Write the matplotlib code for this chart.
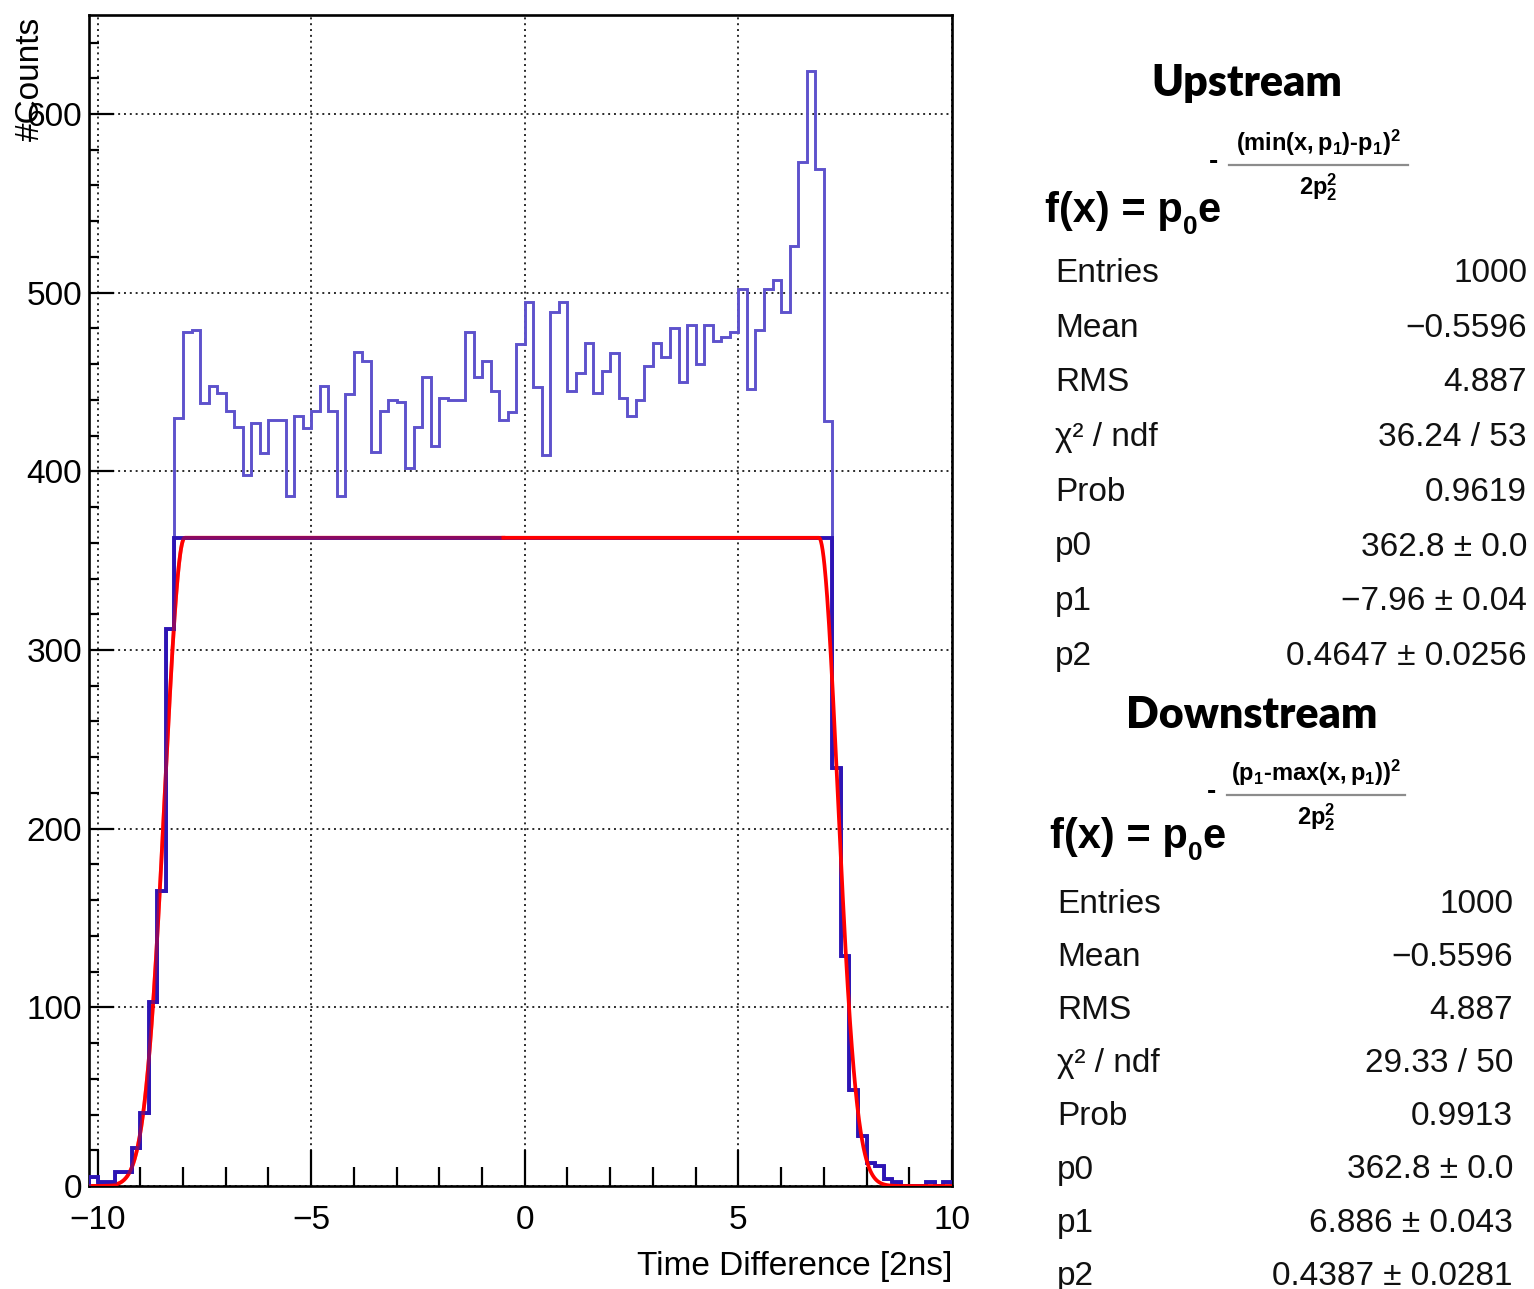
import numpy as np
import matplotlib
matplotlib.use("Agg")
import matplotlib.pyplot as plt
from matplotlib.lines import Line2D
from matplotlib.ticker import MultipleLocator

# ---------------- data ----------------
bin_low = -10.2
bin_width = 0.2
counts = [
    # -10.2 ... -8.2
    5, 2, 2, 8, 8, 21, 41, 103, 165, 312,
    # -8.2 ... 7.2
    430, 478, 479, 438, 448, 444, 434, 425, 398, 427,
    410, 429, 429, 386, 431, 424, 434, 448, 434, 386,
    443, 467, 462, 411, 434, 440, 439, 402, 425, 453,
    414, 441, 440, 440, 478, 453, 462, 445, 429, 433,
    471, 495, 447, 409, 489, 495, 445, 455, 472, 444,
    456, 466, 441, 431, 440, 459, 472, 464, 480, 450,
    482, 460, 482, 473, 475, 478, 502, 446, 479, 502,
    507, 489, 526, 573, 624, 569, 428,
    # 7.2 ... 10.0
    234, 129, 54, 28, 13, 11, 4, 2, 0, 0, 0, 2, 0, 2,
]

up_p0, up_p1, up_p2 = 362.8, -7.96, 0.4647
down_p0, down_p1, down_p2 = 362.8, 6.886, 0.4387
up_range = (-10.2, -0.5)
down_range = (-0.5, 10.0)

stat_labels = ["Entries", "Mean", "RMS", "χ² / ndf", "Prob", "p0", "p1", "p2"]
up_values = ["1000", "\u22120.5596", "4.887", "36.24 / 53", "0.9619",
             "362.8 \u00b1 0.0", "\u22127.96 \u00b1 0.04", "0.4647 \u00b1 0.0256"]
down_values = ["1000", "\u22120.5596", "4.887", "29.33 / 50", "0.9913",
               "362.8 \u00b1 0.0", "6.886 \u00b1 0.043", "0.4387 \u00b1 0.0281"]

x_ticks = [-10, -5, 0, 5, 10]
y_ticks = [0, 100, 200, 300, 400, 500, 600]

# ---------------- style ----------------
plt.rcParams['font.family'] = ['Liberation Sans', 'DejaVu Sans']
plt.rcParams['mathtext.fontset'] = 'custom'
plt.rcParams['mathtext.rm'] = 'Liberation Sans'
plt.rcParams['mathtext.bf'] = 'Liberation Sans:bold'
plt.rcParams['mathtext.it'] = 'Liberation Sans:italic'

W, H = 1534, 1289
fig = plt.figure(figsize=(W / 100, H / 100), dpi=100)


def P(px, py):
    return px / W, 1 - py / H


ax = fig.add_axes([89 / W, 1 - 1186 / H, (952 - 89) / W, (1186 - 15) / H])

counts = np.asarray(counts, dtype=float)
edges = bin_low + bin_width * np.arange(len(counts) + 1)

ax.stairs(counts, edges, color='#5e52cc', lw=2.1, zorder=2)

xu = np.linspace(up_range[0], up_range[1], 1000)
fu = up_p0 * np.exp(-(np.minimum(xu, up_p1) - up_p1) ** 2 / (2 * up_p2 ** 2))
xd = np.linspace(down_range[0], down_range[1], 1000)
fd = down_p0 * np.exp(-(down_p1 - np.maximum(xd, down_p1)) ** 2 / (2 * down_p2 ** 2))

ax.plot(xu, fu, color='#ff0000', lw=2.7, zorder=3)
ax.stairs(np.minimum(counts, up_p0), edges, color='#2d14b4', lw=2.8, zorder=4)
ax.plot(xu, fu, color='#ff0000', lw=2.7, alpha=0.45, zorder=5)
ax.plot(xd, fd, color='#ff0000', lw=2.7, zorder=6)

ax.set_xlim(-10.2, 10.0)
ax.set_ylim(0, 655.4)
ax.set_xticks(x_ticks)
ax.set_yticks(y_ticks)
ax.xaxis.set_minor_locator(MultipleLocator(1))
ax.yaxis.set_minor_locator(MultipleLocator(20))
ax.grid(True, which='major', linestyle=(0, (1, 2.0)), color='#2a2a2a', lw=1.4)
ax.set_axisbelow(True)
ax.tick_params(which='both', direction='in', color='black', width=1.6,
               labelsize=24, top=False, right=False)
ax.tick_params(axis='x', which='major', length=26, pad=14)
ax.tick_params(axis='x', which='minor', length=14)
ax.tick_params(axis='y', which='major', length=18, pad=5)
ax.tick_params(axis='y', which='minor', length=7)
for s in ax.spines.values():
    s.set_linewidth(1.9)
    s.set_color('black')

fig.text(*P(952, 1266), "Time Difference [2ns]", ha='right', va='center', fontsize=24)
fig.text(*P(30, 17), "#Counts", ha='center', va='top', rotation=90, fontsize=24)

# ---------------- stat panels ----------------
renderer = fig.canvas.get_renderer()


def chain(pieces, px0, baseline):
    """pieces: (text, dy_px, size, weight)"""
    x = px0
    for txt, dy, size, weight in pieces:
        t = fig.text(*P(x, baseline + dy), txt, fontsize=size, fontweight=weight,
                     ha='left', va='baseline', color='black')
        bb = t.get_window_extent(renderer)
        x = bb.x1
    return x


def panel(title, title_cx, title_base, fx, fbase, numer, frac_x0, frac_x1, frac_y,
          label_x, value_x, base0, step, values):
    fig.text(*P(title_cx, title_base), title, ha='center', va='baseline',
             fontsize=31, fontweight='heavy', family=['Lato', 'DejaVu Sans'])
    chain([("f(x) = p", 0, 30, 'bold'), ("0", 12, 19, 'bold'), ("e", 0, 30, 'bold')],
          fx, fbase)
    fig.text(*P(frac_x0 - 16, frac_y + 4), "-", ha='center', va='baseline',
             fontsize=20, fontweight='bold')
    fig.add_artist(Line2D([frac_x0 / W, frac_x1 / W], [1 - frac_y / H, 1 - frac_y / H],
                          transform=fig.transFigure, color='#8c8c8c', lw=1.6))
    cx = (frac_x0 + frac_x1) / 2
    fig.text(*P(cx, frac_y - 14), numer, ha='center', va='baseline',
             fontsize=17, fontweight='bold')
    fig.text(*P(cx, frac_y + 29), r"2$\mathbf{p_{2}^{2}}$", ha='center', va='baseline',
             fontsize=17, fontweight='bold')
    for i, (lab, val) in enumerate(zip(stat_labels, values)):
        y = base0 + i * step
        fig.text(*P(label_x, y), lab, ha='left', va='baseline', fontsize=24,
                 color='#111111')
        fig.text(*P(value_x, y), val, ha='right', va='baseline', fontsize=24,
                 color='#111111')


panel("Upstream", 1247, 96, 1045, 222,
      r"$\mathbf{(min(x,p_{1})}$-$\mathbf{p_{1})^{2}}$", 1229, 1408, 165,
      1055, 1527, 282, 54.7, up_values)
panel("Downstream", 1252, 728, 1050, 848,
      r"$\mathbf{(p_{1}}$-$\mathbf{max(x,p_{1}))^{2}}$", 1227, 1405, 795,
      1057, 1513, 913, 53.1, down_values)

fig.savefig("out.png", dpi=100)
